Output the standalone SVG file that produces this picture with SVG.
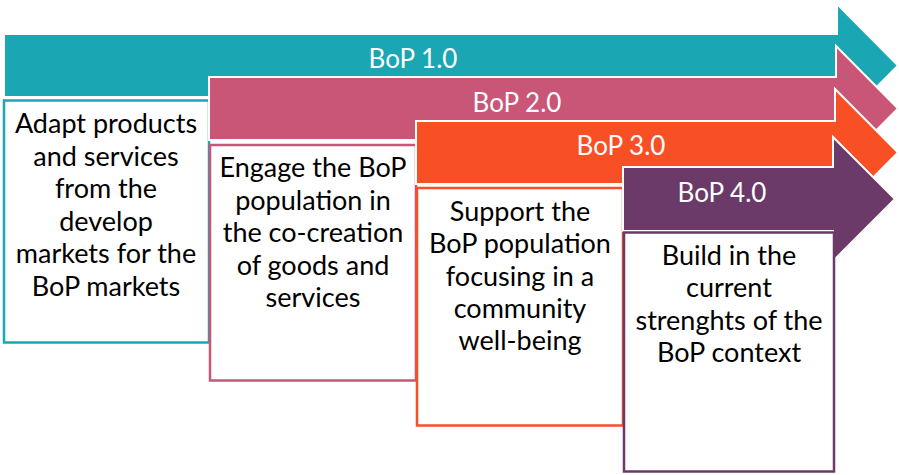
<svg xmlns="http://www.w3.org/2000/svg" width="899" height="475" viewBox="0 0 899 475">
<style>
.arrow{stroke:#ffffff;stroke-width:2;stroke-linejoin:miter}
.box{fill:#ffffff;stroke-width:2.5}
.hdr{font-family:Lato,"Liberation Sans",sans-serif;font-size:26px;fill:#ffffff;text-anchor:middle}
.txt{font-family:Lato,"Liberation Sans",sans-serif;font-size:27px;fill:#000000;text-anchor:middle}
</style>
<rect width="899" height="475" fill="#ffffff"/>
<g id="connectors"/>
<g id="bop1">
<path class="arrow" fill="#1AA6B2" d="M4,34 H837 V4 L898,65.5 L837,127 V97 H4 Z"/>
<rect class="box" stroke="#1AA6B2" x="4" y="100.5" width="205" height="242"/>
<text class="hdr" x="413" y="68">BoP 1.0</text>
<text class="txt" x="106"><tspan x="106" y="133">Adapt products</tspan><tspan x="106" y="165.5">and services</tspan><tspan x="106" y="198">from the</tspan><tspan x="106" y="230.5">develop</tspan><tspan x="106" y="263">markets for the</tspan><tspan x="106" y="295.5">BoP markets</tspan></text>
</g>
<g id="bop2">
<path class="arrow" fill="#C95577" d="M209,77 H836 V46 L898,108.5 L836,171 V140 H209 Z"/>
<rect class="box" stroke="#C95577" x="210" y="145" width="206" height="235.5"/>
<text class="hdr" x="517" y="112">BoP 2.0</text>
<text class="txt" x="313"><tspan x="313" y="177">Engage the BoP</tspan><tspan x="313" y="209.5">population in</tspan><tspan x="313" y="242">the co-creation</tspan><tspan x="313" y="274.5">of goods and</tspan><tspan x="313" y="307">services</tspan></text>
</g>
<g id="bop3">
<path class="arrow" fill="#F84F25" d="M416,121 H835 V89 L898,152.5 L835,216 V184 H416 Z"/>
<rect class="box" stroke="#F84F25" x="417" y="188" width="206" height="237.5"/>
<text class="hdr" x="621" y="155">BoP 3.0</text>
<text class="txt" x="520"><tspan x="520" y="221">Support the</tspan><tspan x="520" y="253">BoP population</tspan><tspan x="520" y="285.5">focusing in a</tspan><tspan x="520" y="317.5">community</tspan><tspan x="520" y="350">well-being</tspan></text>
</g>
<g id="bop4">
<path class="arrow" fill="#6B3A68" d="M623,167 H833 V137 L895,199 L833,261 V231 H623 Z"/>
<rect class="box" stroke="#6B3A68" x="624" y="232.5" width="210" height="239"/>
<text class="hdr" x="722" y="202">BoP 4.0</text>
<text class="txt" x="729"><tspan x="729" y="265">Build in the</tspan><tspan x="729" y="297">current</tspan><tspan x="729" y="329.5">strenghts of the</tspan><tspan x="729" y="362">BoP context</tspan></text>
</g>
</svg>
